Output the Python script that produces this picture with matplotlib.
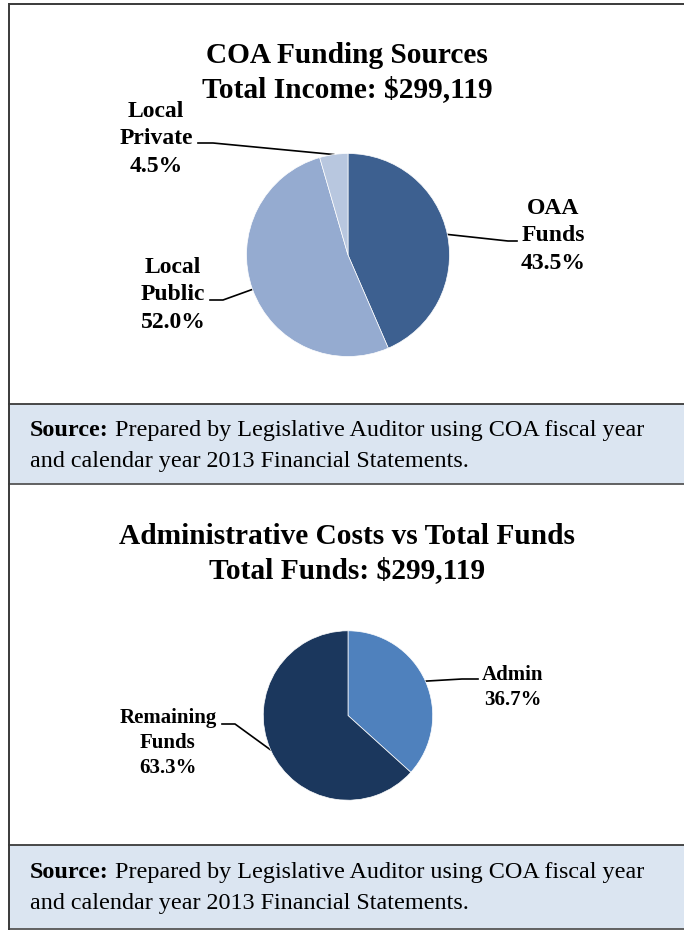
import numpy as np
import matplotlib.pyplot as plt
from matplotlib.patches import Rectangle

# funding sources, clockwise from 12 o'clock
src_names = ['OAA\nFunds', 'Local\nPublic', 'Local\nPrivate']
src_share = [43.5, 52.0, 4.5]
src_colors = ['#3D6090', '#95ABD0', '#B8C7DF']

# admin costs vs remaining
adm_names = ['Admin', 'Remaining\nFunds']
adm_share = [36.7, 63.3]
adm_colors = ['#4F81BD', '#1B375D']

title_1 = ['COA Funding Sources', 'Total Income: $299,119']
title_2 = ['Administrative Costs vs Total Funds', 'Total Funds: $299,119']
source_bold = 'Source:'
source_rest = [' Prepared by Legislative Auditor using COA fiscal year',
               'and calendar year 2013 Financial Statements.']

W, H = 684, 930
SERIF = 'Liberation Serif'

fig = plt.figure(figsize=(W / 100, H / 100), dpi=100)
bg = fig.add_axes([0, 0, 1, 1])
bg.set_xlim(0, W)
bg.set_ylim(H, 0)
bg.axis('off')

# outer frame
bg.plot([9, W], [4, 4], color='#3a3a3a', lw=1.4, solid_capstyle='butt')

# shaded source boxes
for top, bot in [(404, 484), (845, 929)]:
    bg.add_patch(Rectangle((9, top), W, bot - top, facecolor='#DBE5F1',
                           edgecolor='none'))
    bg.plot([9, W], [top, top], color='#3a3a3a', lw=1.3)
    bg.plot([9, W], [bot, bot], color='#555555', lw=1.3)
bg.plot([9, 9], [3, H], color='#3a3a3a', lw=1.4, solid_capstyle='butt')


def pie_axes(cx, cy, r):
    ax = fig.add_axes([(cx - r) / W, (H - cy - r) / H, 2 * r / W, 2 * r / H])
    return ax


def edge_point(ax, wedge):
    # middle of the wedge's arc, in background pixel coords
    mid = np.deg2rad((wedge.theta1 + wedge.theta2) / 2)
    disp = ax.transData.transform((np.cos(mid), np.sin(mid)))
    return bg.transData.inverted().transform(disp)


def draw_pie(cx, cy, r, values, colors):
    ax = pie_axes(cx, cy, r)
    wedges, _ = ax.pie(values, colors=colors, startangle=90, counterclock=False,
                       wedgeprops=dict(edgecolor='white', linewidth=0.5))
    ax.set_xlim(-1, 1)
    ax.set_ylim(-1, 1)
    return ax, wedges


def draw_label(name, value, x, base, step, size):
    lines = name.split('\n') + [f'{value:.1f}%']
    for i, s in enumerate(lines):
        bg.text(x, base + i * step, s, ha='center', va='baseline',
                family=SERIF, weight='bold', fontsize=size)


def leader(start, pts):
    xs = [start[0]] + [p[0] for p in pts]
    ys = [start[1]] + [p[1] for p in pts]
    bg.plot(xs, ys, color='black', lw=1.2)


# ---- top panel ----
for i, s in enumerate(title_1):
    bg.text(347, 63 + i * 34, s, ha='center', va='baseline', family=SERIF,
            weight='bold', fontsize=21.2)

ax1, w1 = draw_pie(348, 255, 101.5, src_share, src_colors)
# label anchor x, first baseline, and leader bend/end points
lab1 = [(553, 214, [(508, 241), (517, 241)]),
        (173, 273, [(223, 300), (210, 300)]),
        (156, 117, [(213, 143), (198, 143)])]
for name, v, wdg, (lx, lb, pts) in zip(src_names, src_share, w1, lab1):
    draw_label(name, v, lx, lb, 27.3, 17)
    leader(edge_point(ax1, wdg), pts)

# ---- bottom panel ----
for i, s in enumerate(title_2):
    bg.text(347, 544 + i * 34, s, ha='center', va='baseline', family=SERIF,
            weight='bold', fontsize=21.2)

ax2, w2 = draw_pie(348, 715.5, 84.7, adm_share, adm_colors)
lab2 = [(513, 680, [(462, 679), (478, 679)]),
        (168, 723, [(235, 724), (222, 724)])]
for name, v, wdg, (lx, lb, pts) in zip(adm_names, adm_share, w2, lab2):
    draw_label(name, v, lx, lb, 24.8, 15)
    leader(edge_point(ax2, wdg), pts)

# ---- source notes ----
renderer = fig.canvas.get_renderer()
for base in (436, 878):
    t = bg.text(30, base, source_bold, ha='left', va='baseline', family=SERIF,
                weight='bold', fontsize=17.4)
    bb = t.get_window_extent(renderer)
    x_end = bg.transData.inverted().transform((bb.x1, bb.y0))[0]
    bg.text(x_end, base, source_rest[0], ha='left', va='baseline',
            family=SERIF, fontsize=17.4)
    bg.text(30, base + 31, source_rest[1], ha='left', va='baseline',
            family=SERIF, fontsize=17.4)

fig.savefig('out.png', dpi=100)
